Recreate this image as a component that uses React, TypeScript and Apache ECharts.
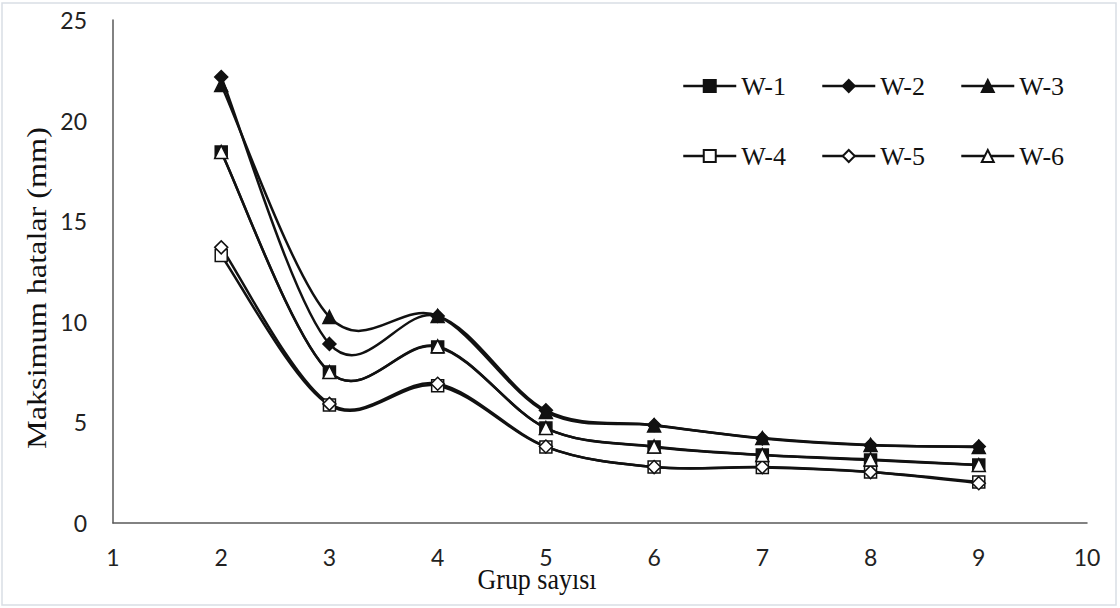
import React, { useEffect, useRef } from "react";
import * as echarts from "echarts";

const groups = [2, 3, 4, 5, 6, 7, 8, 9];
const w1 = [18.44, 7.5, 8.75, 4.72, 3.78, 3.38, 3.13, 2.88];
const w2 = [22.17, 8.9, 10.29, 5.6, 4.87, 4.2, 3.86, 3.8];
const w3 = [21.77, 10.24, 10.29, 5.52, 4.85, 4.22, 3.88, 3.78];
const w4 = [13.3, 5.86, 6.82, 3.78, 2.78, 2.76, 2.53, 2.04];
const w5 = [13.7, 5.92, 6.92, 3.8, 2.78, 2.78, 2.53, 1.98];
const w6 = [18.44, 7.5, 8.78, 4.72, 3.8, 3.38, 3.16, 2.88];

const seriesNames = ["W-1", "W-2", "W-3", "W-4", "W-5", "W-6"];
const seriesValues = [w1, w2, w3, w4, w5, w6];
const seriesSymbols = ["rect", "diamond", "triangle", "rect", "diamond", "triangle"];
const seriesFilled = [true, true, true, false, false, false];

const xTicks = [1, 2, 3, 4, 5, 6, 7, 8, 9, 10];
const yTicks = [0, 5, 10, 15, 20, 25];

const xTitle = "Grup sayısı";
const yTitle = "Maksimum hatalar (mm)";

export default function App() {
  const ref = useRef<HTMLDivElement>(null);
  useEffect(() => {
    if (!ref.current) return;
    const chart = echarts.init(ref.current, null, { renderer: "svg" });
    const serif = "'Liberation Serif', 'Times New Roman', serif";
    const sans = "Lato, 'Noto Sans', sans-serif";
    const ink = "#111";

    // smooth curves (Excel-like Catmull-Rom) drawn through the axes' scales
    const curveSeries = seriesNames.map((name, i) => {
      const vals = seriesValues[i];
      const n = groups.length;
      return {
        name: name + " curve",
        type: "custom",
        coordinateSystem: "cartesian2d",
        silent: true,
        z: 2,
        encode: { x: 0, y: 1 },
        data: groups.map((g, j) => [g, vals[j]]),
        renderItem: (params: any, api: any) => {
          const k = params.dataIndex;
          if (k >= n - 1) return null;
          const P = (j: number) => {
            const c = Math.max(0, Math.min(n - 1, j));
            return api.coord([groups[c], vals[c]]);
          };
          const p0 = P(k - 1);
          const p1 = P(k);
          const p2 = P(k + 1);
          const p3 = P(k + 2);
          return {
            type: "bezierCurve",
            shape: {
              x1: p1[0],
              y1: p1[1],
              x2: p2[0],
              y2: p2[1],
              cpx1: p1[0] + (p2[0] - p0[0]) / 6,
              cpy1: p1[1] + (p2[1] - p0[1]) / 6,
              cpx2: p2[0] - (p3[0] - p1[0]) / 6,
              cpy2: p2[1] - (p3[1] - p1[1]) / 6,
            },
            style: { stroke: ink, lineWidth: 2.5, fill: "none" },
          };
        },
      };
    });

    const markerSeries = seriesNames.map((name, i) => ({
      name,
      type: "line",
      data: groups.map((g, j) => [g, seriesValues[i][j]]),
      symbol: seriesSymbols[i],
      symbolSize: seriesSymbols[i] === "rect" ? 12 : 13,
      showAllSymbol: true,
      lineStyle: { color: ink, width: 2.5, opacity: 0 },
      itemStyle: {
        color: seriesFilled[i] ? ink : "#fff",
        borderColor: ink,
        borderWidth: 1.5,
      },
      emphasis: { disabled: true },
      z: 3 + i,
    }));

    const legendCommon = {
      orient: "horizontal",
      itemWidth: 53,
      itemHeight: 15,
      itemGap: 35,
      lineStyle: { color: ink, width: 2.5, opacity: 1 },
      textStyle: { fontFamily: serif, fontSize: 26, color: ink },
      selectedMode: false,
    };
    chart.setOption({
      animation: false,
      backgroundColor: "#fff",
      grid: { left: 113, right: 33, top: 20, bottom: 85, containLabel: false },
      legend: [
        { ...legendCommon, left: 677, top: 68, data: seriesNames.slice(0, 3) },
        { ...legendCommon, left: 677, top: 138, data: seriesNames.slice(3) },
      ],
      xAxis: {
        type: "value",
        min: xTicks[0],
        max: xTicks[xTicks.length - 1],
        interval: 1,
        axisLine: { show: true, lineStyle: { color: "#595959", width: 1.5 } },
        axisTick: { show: false },
        splitLine: { show: false },
        axisLabel: { fontFamily: sans, fontSize: 23, color: "#222", margin: 22 },
      },
      yAxis: {
        type: "value",
        min: yTicks[0],
        max: yTicks[yTicks.length - 1],
        interval: 5,
        axisLine: { show: true, lineStyle: { color: "#595959", width: 1.5 } },
        axisTick: { show: false },
        splitLine: { show: false },
        axisLabel: { fontFamily: sans, fontSize: 23, color: "#222", margin: 26 },
      },
      graphic: [
        {
          type: "rect",
          shape: { x: 2, y: 3, width: 1114, height: 602 },
          style: { fill: "none", stroke: "#d9dee5", lineWidth: 1.5 },
          silent: true,
          z: 0,
        },
        {
          type: "text",
          x: 537,
          y: 579,
          scaleY: 1.15,
          style: {
            text: xTitle,
            fontFamily: serif,
            fontSize: 26,
            fill: ink,
            textAlign: "center",
            textVerticalAlign: "middle",
          },
          silent: true,
        },
        {
          type: "text",
          x: 37,
          y: 288,
          rotation: Math.PI / 2,
          scaleX: 1.15,
          style: {
            text: yTitle,
            fontFamily: serif,
            fontSize: 28,
            fill: ink,
            textAlign: "center",
            textVerticalAlign: "middle",
          },
          silent: true,
        },
      ],
      series: [...curveSeries, ...markerSeries],
    });
    return () => chart.dispose();
  }, []);
  return (
    <div
      ref={ref}
      style={{ position: "fixed", left: 0, top: 0, width: 1120, height: 608 }}
    />
  );
}
